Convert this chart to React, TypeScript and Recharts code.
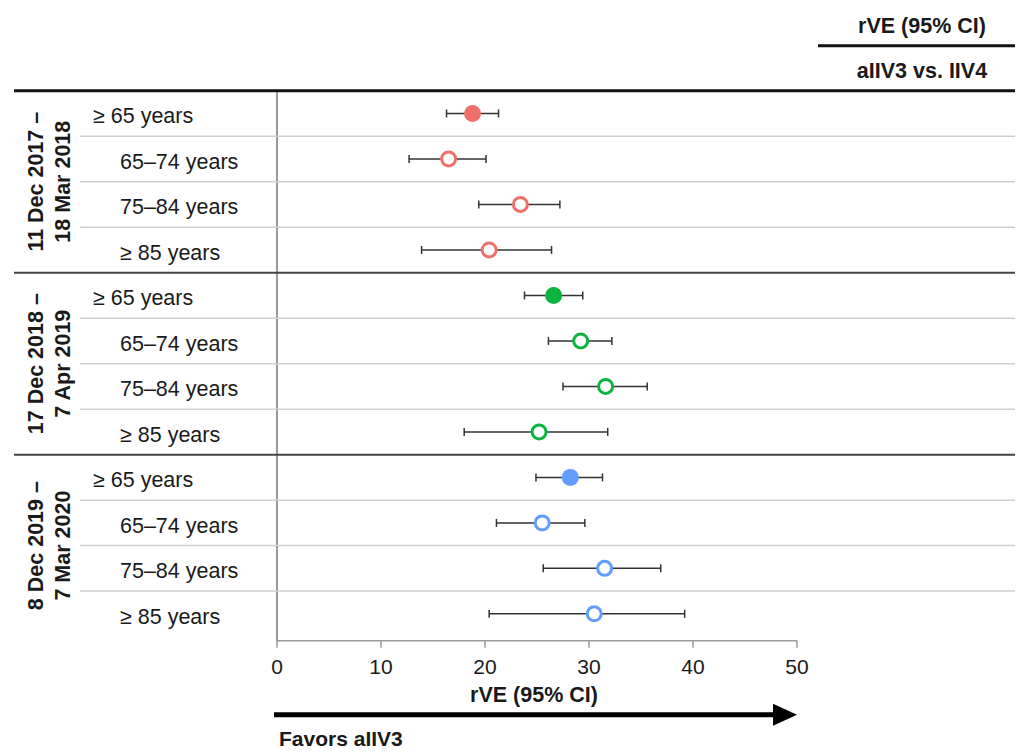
import React from 'react';
import { ScatterChart, Scatter, XAxis, YAxis, ErrorBar } from 'recharts';

const seasonLine1 = ['11 Dec 2017 –', '17 Dec 2018 –', '8 Dec 2019 –'];
const seasonLine2 = ['18 Mar 2018', '7 Apr 2019', '7 Mar 2020'];
const ageGroups = ['≥ 65 years', '65–74 years', '75–84 years', '≥ 85 years'];
const seasonColors = ['#EF6F6A', '#0DB33F', '#619CFF'];

const rve2017 = [18.8, 16.5, 23.4, 20.4];
const low2017 = [16.3, 12.7, 19.4, 13.9];
const high2017 = [21.3, 20.1, 27.2, 26.4];

const rve2018 = [26.6, 29.2, 31.6, 25.2];
const low2018 = [23.8, 26.1, 27.5, 18.0];
const high2018 = [29.4, 32.2, 35.6, 31.8];

const rve2019 = [28.2, 25.5, 31.5, 30.5];
const low2019 = [24.9, 21.1, 25.6, 20.4];
const high2019 = [31.3, 29.6, 36.9, 39.2];

const xTicks = [0, 10, 20, 30, 40, 50];

const seasonValues = [rve2017, rve2018, rve2019];
const seasonLows = [low2017, low2018, low2019];
const seasonHighs = [high2017, high2018, high2019];

const FONT = '"Liberation Sans", Arial, sans-serif';
const TEXT = '#1a1a1a';

type Row = { x: number; y: number; err: [number, number]; filled: boolean; label: string; ci: string; sub: boolean };

const seasonData: Row[][] = seasonValues.map((vals, s) =>
  vals.map((v, a) => ({
    x: v,
    y: s * 4 + a + 0.5,
    err: [+(v - seasonLows[s][a]).toFixed(2), +(seasonHighs[s][a] - v).toFixed(2)] as [number, number],
    filled: a === 0,
    label: ageGroups[a],
    sub: a !== 0,
    ci: `${v.toFixed(1)} (${seasonLows[s][a].toFixed(1)} to ${seasonHighs[s][a].toFixed(1)})`,
  }))
);
const allRows = seasonData.flat();
const yTicks: number[] = [];
for (let i = 0; i < 12; i++) {
  yTicks.push(i);
  yTicks.push(i + 0.5);
}

const LeftTick = (props: any) => {
  const { y, payload } = props;
  const v = payload.value as number;
  if (Number.isInteger(v)) {
    const parts: React.ReactNode[] = [];
    if (v === 0) {
      parts.push(<line key="l" x1={14} x2={1015} y1={y} y2={y} stroke="#111" strokeWidth={3} />);
    } else if (v % 4 === 0) {
      parts.push(<line key="l" x1={14} x2={1015} y1={y} y2={y} stroke="#444" strokeWidth={2} />);
    } else {
      parts.push(<line key="l" x1={80} x2={1015} y1={y} y2={y} stroke="#cfcfcf" strokeWidth={1.5} />);
    }
    if (v % 4 === 2) {
      const s = (v - 2) / 4;
      parts.push(
        <text
          key="g"
          transform={`translate(43, ${y}) rotate(-90)`}
          textAnchor="middle"
          fontFamily={FONT}
          fontWeight="bold"
          fontSize={21.5}
          fill={TEXT}
        >
          <tspan x={0} y={0}>{seasonLine1[s]}</tspan>
          <tspan x={0} y={27}>{seasonLine2[s]}</tspan>
        </text>
      );
    }
    return <g>{parts}</g>;
  }
  const row = allRows[Math.floor(v)];
  return (
    <text x={row.sub ? 120 : 93} y={y} dy="0.46em" fontFamily={FONT} fontSize={21.5} fill={TEXT}>
      {row.label}
    </text>
  );
};

const RightTick = (props: any) => {
  const { y, payload } = props;
  const v = payload.value as number;
  if (Number.isInteger(v)) return <g />;
  const row = allRows[Math.floor(v)];
  return (
    <text x={1005} y={y} dy="0.48em" textAnchor="end" fontFamily={FONT} fontSize={20.5} fill={TEXT}>
      {row.ci}
    </text>
  );
};

const HeaderLabel = (props: any) => {
  const vb = props.viewBox || { x: 797, y: 91, width: 224, height: 550 };
  const cx = vb.x + 125;
  return (
    <g>
      <text x={cx} y={vb.y - 58} textAnchor="middle" fontFamily={FONT} fontWeight="bold" fontSize={21.5} fill={TEXT}>
        rVE (95% CI)
      </text>
      <line x1={818} x2={1015} y1={vb.y - 45} y2={vb.y - 45} stroke="#111" strokeWidth={3} />
      <text x={cx} y={vb.y - 13} textAnchor="middle" fontFamily={FONT} fontWeight="bold" fontSize={21.5} fill={TEXT}>
        aIIV3 vs. IIV4
      </text>
    </g>
  );
};

const XLabel = (props: any) => {
  const vb = props.viewBox || { x: 277, y: 641, width: 520, height: 40 };
  const ay = vb.y + 74;
  return (
    <g>
      <text x={vb.x + vb.width / 2 - 3} y={vb.y + 61} textAnchor="middle" fontFamily={FONT} fontWeight="bold" fontSize={21.5} fill={TEXT}>
        rVE (95% CI)
      </text>
      <line x1={vb.x - 3} x2={vb.x + vb.width - 20} y1={ay} y2={ay} stroke="#000" strokeWidth={5} />
      <polygon
        points={`${vb.x + vb.width},${ay} ${vb.x + vb.width - 24},${ay - 11} ${vb.x + vb.width - 24},${ay + 11}`}
        fill="#000"
      />
      <text x={vb.x + 2} y={vb.y + 105} fontFamily={FONT} fontWeight="bold" fontSize={21} fill={TEXT}>
        Favors aIIV3
      </text>
    </g>
  );
};

const makeShape = (color: string) => (p: any) => {
  if (p.payload && p.payload.filled) {
    return <circle cx={p.cx} cy={p.cy} r={8.5} fill={color} />;
  }
  return <circle cx={p.cx} cy={p.cy} r={7} fill="#fff" stroke={color} strokeWidth={3} />;
};

export default function App() {
  return (
    <div style={{ position: 'absolute', left: 0, top: 0, width: 1021, height: 752, background: '#fff' }}>
      <ScatterChart width={1021} height={752} margin={{ top: 90.7, right: 0, bottom: 71.3, left: 0 }}>
        <XAxis
          dataKey="x"
          type="number"
          domain={[0, 50]}
          ticks={xTicks}
          interval={0}
          height={40}
          axisLine={{ stroke: '#999', strokeWidth: 1.5 }}
          tickLine={{ stroke: '#999', strokeWidth: 1.5 }}
          tickSize={7}
          tickMargin={11}
          tick={{ fontSize: 21, fill: TEXT, fontFamily: FONT }}
          label={<XLabel />}
        />
        <YAxis
          yAxisId="left"
          dataKey="y"
          type="number"
          domain={[0, 12.09]}
          reversed
          ticks={yTicks}
          interval={0}
          width={277}
          orientation="left"
          axisLine={{ stroke: '#777', strokeWidth: 1.5 }}
          tickLine={false}
          tick={LeftTick}
        />
        <YAxis
          yAxisId="right"
          dataKey="y"
          type="number"
          domain={[0, 12.09]}
          reversed
          ticks={yTicks}
          interval={0}
          width={224}
          orientation="right"
          axisLine={false}
          tickLine={false}
          tick={RightTick}
          label={<HeaderLabel />}
        />
        {seasonData.map((d, s) => (
          <Scatter
            key={s}
            data={d}
            yAxisId="left"
            isAnimationActive={false}
            shape={makeShape(seasonColors[s])}
          >
            <ErrorBar dataKey="err" direction="x" width={4} stroke="#333" strokeWidth={1.5} isAnimationActive={false} />
          </Scatter>
        ))}
      </ScatterChart>
    </div>
  );
}
